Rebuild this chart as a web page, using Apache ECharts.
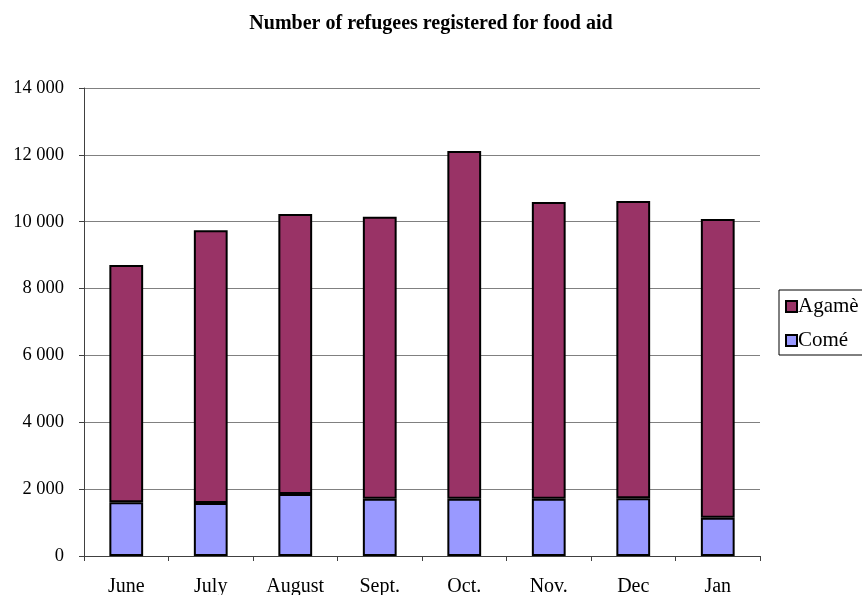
<!DOCTYPE html>
<html>
<head>
<meta charset="utf-8">
<script src="https://cdn.jsdelivr.net/npm/echarts@6/dist/echarts.min.js"></script>
<style>
html,body{margin:0;padding:0;background:#fff;}
#chart{width:862px;height:595px;}
</style>
</head>
<body>
<div id="chart"></div>
<script>
const categories = ['June', 'July', 'August', 'Sept.', 'Oct.', 'Nov.', 'Dec', 'Jan'];
const come = [1606, 1585, 1855, 1715, 1715, 1715, 1725, 1146];
const agame = [7099, 8158, 8375, 8435, 10400, 8875, 8895, 8935];
const yTicks = [0, 2000, 4000, 6000, 8000, 10000, 12000, 14000];

const FONT = '"Liberation Serif", "Times New Roman", serif';
const chart = echarts.init(document.getElementById('chart'), null, {renderer: 'canvas'});
chart.setOption({
  animation: false,
  backgroundColor: '#fff',
  title: {
    text: 'Number of refugees registered for food aid',
    left: 'center', top: 9,
    textStyle: {fontFamily: FONT, fontWeight: 'bold', fontSize: 20, color: '#000'}
  },
  legend: {
    orient: 'vertical', left: 779, top: 290,
    data: ['Agamè', 'Comé'],
    icon: 'rect',
    itemWidth: 11, itemHeight: 11, itemGap: 13,
    borderColor: '#000', borderWidth: 1,
    padding: [6, 40, 4, 6],
    textStyle: {fontFamily: FONT, fontSize: 21, color: '#000', padding: [0, 0, 0, -4]}
  },
  grid: {left: 84, right: 102, top: 88, bottom: 39, containLabel: false, outerBoundsMode: 'none'},
  xAxis: {
    type: 'category', data: categories,
    axisLine: {lineStyle: {color: '#404040', width: 1}},
    axisTick: {show: true, length: 5, lineStyle: {color: '#404040'}},
    axisLabel: {fontFamily: FONT, fontSize: 20, color: '#000', margin: 21}
  },
  yAxis: {
    type: 'value', min: 0, max: 14000, interval: 2000,
    axisLine: {show: true, lineStyle: {color: '#404040', width: 1}},
    axisTick: {show: true, length: 5, lineStyle: {color: '#404040'}},
    splitLine: {lineStyle: {color: '#808080', width: 1}},
    axisLabel: {
      fontFamily: FONT, fontSize: 18.5, color: '#000', margin: 20,
      formatter: v => yTicks.includes(v) ? String(v).replace(/\B(?=(\d{3})+(?!\d))/g, ' ') : ''
    }
  },
  series: [
    {
      name: 'Comé', type: 'bar', stack: 'total', data: come, barWidth: '40%',
      itemStyle: {color: '#9999FF', borderColor: '#000', borderWidth: 2}
    },
    {
      name: 'Agamè', type: 'bar', stack: 'total', data: agame, barWidth: '40%',
      itemStyle: {color: '#993366', borderColor: '#000', borderWidth: 2}
    }
  ]
});
</script>
</body>
</html>
